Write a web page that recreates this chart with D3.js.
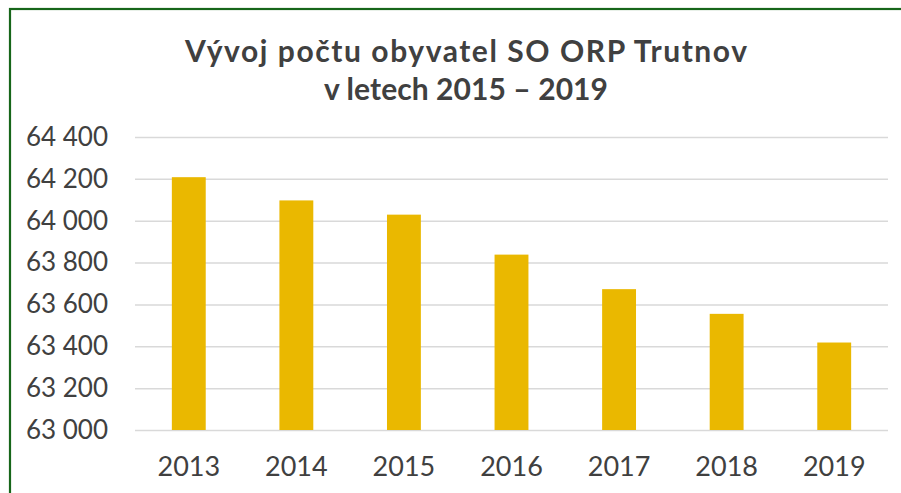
<!DOCTYPE html>
<html>
<head>
<meta charset="utf-8">
<script src="https://cdn.jsdelivr.net/npm/d3@7"></script>
<style>
  body { margin: 0; background: #fff; }
  svg { display: block; font-family: Lato, "Open Sans", sans-serif; }
  .tick text { fill: #404040; }
</style>
</head>
<body>
<div id="chart"></div>
<script>
const years = ["2013", "2014", "2015", "2016", "2017", "2018", "2019"];
const population = [64208, 64097, 64029, 63838, 63673, 63555, 63418];
const yTicks = [63000, 63200, 63400, 63600, 63800, 64000, 64200, 64400];
const titleLines = ["Vývoj počtu obyvatel SO ORP Trutnov", "v letech 2015 – 2019"];
const titleWidths = [562, 284];

const width = 901;
const height = 493;
const margin = { top: 137, right: 13, bottom: 63, left: 135 };
const innerWidth = width - margin.left - margin.right;
const innerHeight = height - margin.top - margin.bottom;

const svg = d3.select("#chart")
  .append("svg")
  .attr("width", width)
  .attr("height", height);

// green frame, right and bottom edges fall outside the picture
svg.append("rect")
  .attr("x", 10)
  .attr("y", 9)
  .attr("width", width + 10)
  .attr("height", height + 10)
  .attr("fill", "none")
  .attr("stroke", "#17661a")
  .attr("stroke-width", 2.2);

svg.append("g")
  .selectAll("text")
  .data(titleLines)
  .join("text")
  .attr("x", 466)
  .attr("y", (d, i) => 62 + i * 38)
  .attr("text-anchor", "middle")
  .attr("font-size", 30)
  .attr("font-weight", "bold")
  .attr("fill", "#404040")
  .attr("textLength", (d, i) => titleWidths[i])
  .attr("lengthAdjust", "spacing")
  .text((d) => d);

const g = svg.append("g")
  .attr("transform", `translate(${margin.left},${margin.top})`);

const x = d3.scaleBand()
  .domain(years)
  .range([0, innerWidth])
  .paddingInner(0.685)
  .paddingOuter(0.3425);

const y = d3.scaleLinear()
  .domain([63000, 64400])
  .range([innerHeight, 0]);

const fmt = (v) => d3.format(",")(v).replace(",", "\u00a0");

g.append("g")
  .call(d3.axisLeft(y).tickValues(yTicks).tickSize(-innerWidth).tickFormat(""))
  .call((s) => s.select(".domain").remove())
  .call((s) => s.selectAll("line").attr("stroke", "#d9d9d9").attr("stroke-width", 1.5));

g.append("g")
  .call(d3.axisLeft(y).tickValues(yTicks).tickSize(0).tickPadding(27).tickFormat(fmt))
  .call((s) => s.select(".domain").remove())
  .call((s) => s.selectAll("text").attr("font-size", 26).attr("font-family", "Lato, sans-serif"));

g.append("g")
  .attr("transform", `translate(0,${innerHeight})`)
  .call(d3.axisBottom(x).tickSize(0).tickPadding(27))
  .call((s) => s.select(".domain").remove())
  .call((s) => s.selectAll("text").attr("font-size", 27).attr("font-family", "Lato, sans-serif"));

g.selectAll(".bar")
  .data(years.map((year, i) => ({ year, value: population[i] })))
  .join("rect")
  .attr("class", "bar")
  .attr("x", (d) => x(d.year))
  .attr("y", (d) => y(d.value))
  .attr("width", x.bandwidth())
  .attr("height", (d) => innerHeight - y(d.value))
  .attr("fill", "#eab800");
</script>
</body>
</html>
